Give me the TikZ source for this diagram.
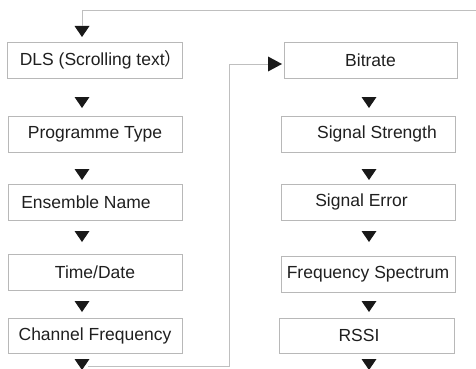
\documentclass[tikz,border=0pt]{standalone}
\usepackage{fontspec}
\setmainfont{Liberation Sans}
\newfontfamily\cjk{Noto Sans CJK SC}
\newcommand{\boxcolor}{black!28}
\newcommand{\wirecolor}{black!25}
\newcommand{\dtri}[2]{\fill[black!90] (#1-7.5,#2) -- (#1+7.5,#2) -- (#1,#2+11) -- cycle;}

\begin{document}
\begin{tikzpicture}[x=1pt, y=-1pt,
    menubox/.style={draw=\boxcolor, line width=.8pt, minimum width=174pt, minimum height=36pt,
        inner sep=0pt, text=black!88, font=\fontsize{17.5}{20}\selectfont},
    wire/.style={draw=\wirecolor, line width=.8pt}]
        \useasboundingbox (0,0) rectangle (476,369);

        % left column
        \node[menubox] (dls) at (95,60) {\hspace*{12pt}DLS (Scrolling text{\cjk ）}};
        \node[menubox] (ptype) at (95,134) {Programme Type};
        \node[menubox] (ens) at (95,202) {\hspace*{-18pt}Ensemble Name};
        \node[menubox] (tdate) at (95,272) {Time/Date};
        \node[menubox, minimum height=35pt] (chfreq) at (95,335.5) {Channel Frequency};

        % right column
        \node[menubox, minimum width=173pt] (bitrate) at (370.5,60) {Bitrate};
        \node[menubox] (sigstr) at (368,134) {Signal Strength\hspace*{-18pt}};
        \node[menubox] (sigerr) at (368,202) {\hspace*{-13pt}Signal Error};
        \node[menubox] (fspec) at (368,274) {Frequency Spectrum};
        \node[menubox, minimum width=175pt, minimum height=35pt] (rssi) at (366.5,335.5) {\hspace*{-15pt}RSSI};

        % triangles between the boxes
        \foreach \t in {97, 169, 231, 301}{
            \dtri{82}{\t}
            \dtri{369}{\t}
        }
        \dtri{82}{26}
        \dtri{82}{359}
        \dtri{369}{359}
        \fill[black!90] (268,56.5) -- (268,71.5) -- (282,64) -- cycle;

        % loop lines
        \coordinate (edge) at (476,10);
        \coordinate (inL) at (82.5,26);
        \coordinate (outL) at (88,366);
        \coordinate (inR) at (268,64);
        \draw[wire] (edge) -| (inL);
        \draw[wire] (outL) -- (229.5,366) |- (inR);
    \end{tikzpicture}
\end{document}
